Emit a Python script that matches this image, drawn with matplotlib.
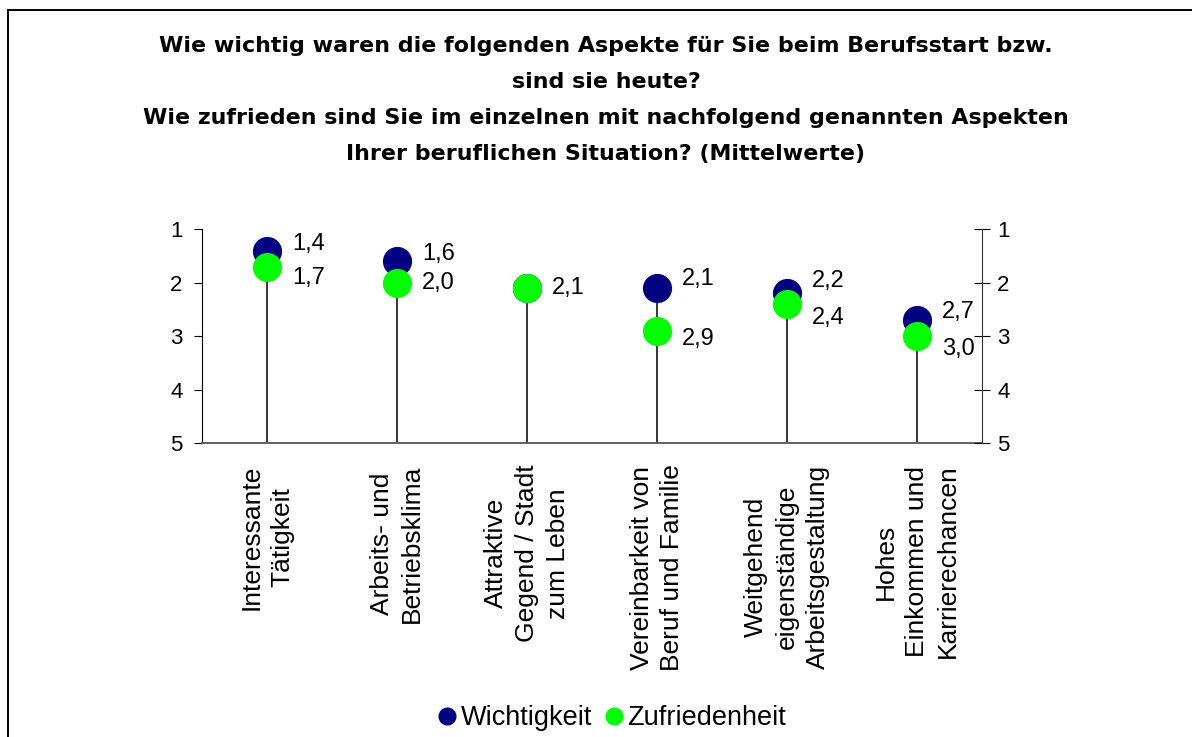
import matplotlib
matplotlib.use("Agg")
import matplotlib.pyplot as plt
from matplotlib.patches import Rectangle
from matplotlib.lines import Line2D

plt.rcParams['font.family'] = ['Liberation Sans', 'DejaVu Sans']

# Data
categories = [
    "Interessante\nTätigkeit",
    "Arbeits- und\nBetriebsklima",
    "Attraktive\nGegend / Stadt\nzum Leben",
    "Vereinbarkeit von\nBeruf und Familie",
    "Weitgehend\neigenständige\nArbeitsgestaltung",
    "Hohes\nEinkommen und\nKarrierechancen",
]
wichtigkeit = [1.4, 1.6, 2.1, 2.1, 2.2, 2.7]
zufriedenheit = [1.7, 2.0, 2.1, 2.9, 2.4, 3.0]
series_names = ["Wichtigkeit", "Zufriedenheit"]
y_ticks = [1, 2, 3, 4, 5]

title = ("Wie wichtig waren die folgenden Aspekte für Sie beim Berufsstart bzw.\n"
         "sind sie heute?\n"
         "Wie zufrieden sind Sie im einzelnen mit nachfolgend genannten Aspekten\n"
         "Ihrer beruflichen Situation? (Mittelwerte)")

# Vertical label offsets (pixels) for the value labels
offs_w = [7, 7, 0, 9, 12, 8]
offs_z = [-11, 0, 0, -8, -14, -13]

NAVY = "#000080"
GREEN = "#00FF00"

W, H = 1192, 737
fig = plt.figure(figsize=(W / 100, H / 100), dpi=100)
fig.patch.set_facecolor("white")

ax_l, ax_r, ax_t, ax_b = 202, 982, 229.3, 443
ax = fig.add_axes([ax_l / W, 1 - ax_b / H, (ax_r - ax_l) / W, (ax_b - ax_t) / H])

x = list(range(len(categories)))

# drop lines from the upper point down to the axis
for xi, w, z in zip(x, wichtigkeit, zufriedenheit):
    ax.plot([xi, xi], [min(w, z), 5], color="black", lw=1.1, zorder=1,
            solid_capstyle="butt")

ax.scatter(x, wichtigkeit, s=21 ** 2, color=NAVY, zorder=3, linewidths=0)
ax.scatter(x, zufriedenheit, s=21 ** 2, color=GREEN, zorder=4, linewidths=0)

def fmt(v):
    return f"{v:.1f}".replace(".", ",")

for xi, v, z, dy in zip(x, wichtigkeit, zufriedenheit, offs_w):
    if v == z:
        continue  # label coincides with the one drawn in front
    ax.annotate(fmt(v), (xi, v), xytext=(25, dy), textcoords="offset pixels",
                ha="left", va="center", fontsize=17, zorder=5)
for xi, v, dy in zip(x, zufriedenheit, offs_z):
    ax.annotate(fmt(v), (xi, v), xytext=(25, dy), textcoords="offset pixels",
                ha="left", va="center", fontsize=17, zorder=5)

ax.set_xlim(-0.5, len(categories) - 0.5)
ax.set_ylim(5, 1)
ax.set_yticks(y_ticks)
ax.set_yticklabels([str(t) for t in y_ticks], fontsize=16)
ax.tick_params(axis="y", direction="out", length=6, width=0.8, pad=8,
               left=True, right=False)
ax.set_xticks(x)
ax.set_xticklabels(categories, rotation=90, fontsize=19, ha="center", va="top",
                   multialignment="center", linespacing=1.35)
ax.tick_params(axis="x", length=0, pad=15.5)

ax.spines["top"].set_visible(False)
ax.spines["right"].set_visible(False)
ax.spines["left"].set_linewidth(0.8)
ax.spines["bottom"].set_color("#555555")
ax.spines["bottom"].set_linewidth(1.3)

# secondary scale on the right
ax2 = ax.twinx()
ax2.set_ylim(5, 1)
ax2.set_yticks(y_ticks)
ax2.set_yticklabels([str(t) for t in y_ticks], fontsize=16)
ax2.tick_params(axis="y", direction="inout", length=12, width=0.8, pad=5)
for s in ["top", "left", "bottom"]:
    ax2.spines[s].set_visible(False)
ax2.spines["right"].set_linewidth(0.8)
ax2.spines["right"].set_color("#333333")

fig.text(606 / W, 1 - 36 / H, title, ha="center", va="top", fontsize=15.9,
         fontweight="bold", family=["DejaVu Sans"], linespacing=2.0)

handles = [
    Line2D([], [], marker="o", ls="", color=NAVY, markersize=13, markeredgewidth=0),
    Line2D([], [], marker="o", ls="", color=GREEN, markersize=13, markeredgewidth=0),
]
fig.legend(handles, series_names, loc="center", bbox_to_anchor=(612 / W, 1 - 718 / H),
           ncol=2, frameon=False, fontsize=19.5, handlelength=0.7, handletextpad=0.15,
           columnspacing=0.45, borderpad=0)

# chart frame, open to the right and bottom
fig.patches.append(Rectangle((8 / W, -0.05), 1.0, (737 - 10) / H + 0.05,
                             transform=fig.transFigure, fill=False, ec="black",
                             lw=1.4))

fig.savefig("out.png", dpi=100)
